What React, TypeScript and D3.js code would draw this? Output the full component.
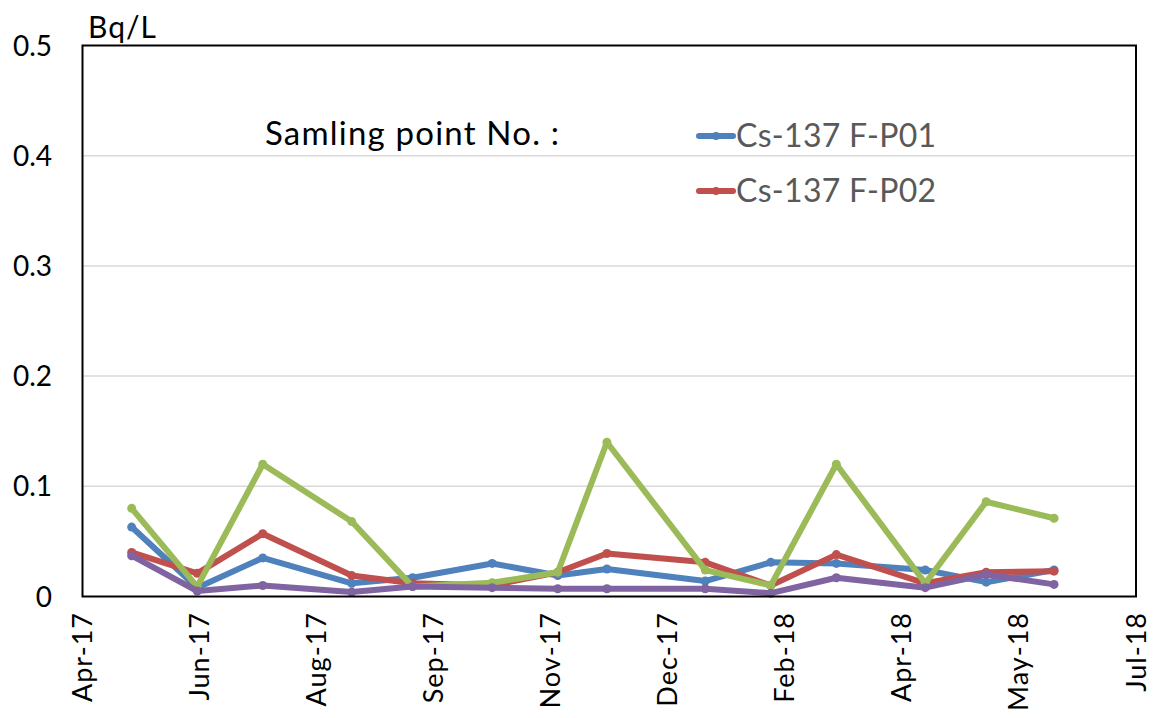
import React from "react";
import * as d3 from "d3";

// sampling dates (x) and Cs-137 concentrations, Bq/L
const sampleDates = [
  "2017-05-15", "2017-06-12", "2017-07-10", "2017-08-17", "2017-09-12",
  "2017-10-16", "2017-11-13", "2017-12-04", "2018-01-15", "2018-02-12",
  "2018-03-12", "2018-04-19", "2018-05-15", "2018-06-13",
];
const fp01 = [0.063, 0.008, 0.035, 0.012, 0.017, 0.03, 0.019, 0.025, 0.014, 0.031, 0.03, 0.024, 0.013, 0.024];
const fp02 = [0.04, 0.021, 0.057, 0.019, 0.012, 0.01, 0.022, 0.039, 0.031, 0.01, 0.038, 0.012, 0.022, 0.023];
const fp03 = [0.08, 0.009, 0.12, 0.068, 0.009, 0.0125, 0.022, 0.14, 0.024, 0.01, 0.12, 0.012, 0.086, 0.071];
const fp04 = [0.037, 0.005, 0.01, 0.004, 0.009, 0.008, 0.007, 0.007, 0.007, 0.003, 0.017, 0.008, 0.02, 0.011];

const seriesNames = ["Cs-137 F-P01", "Cs-137 F-P02", "Cs-137 F-P03", "Cs-137 F-P04"];
const seriesColors = ["#4F81BD", "#C0504D", "#9BBB59", "#8064A2"];

// axis ticks: Excel date axis, major unit 50 days
const tickDates = [
  "2017-04-24", "2017-06-13", "2017-08-02", "2017-09-21", "2017-11-10",
  "2017-12-30", "2018-02-18", "2018-04-09", "2018-05-29", "2018-07-18",
];
const yTicks = [0, 0.1, 0.2, 0.3, 0.4, 0.5];

const FONT = "Lato, 'Open Sans', sans-serif";

const App: React.FC = () => {
  const width = 1154;
  const height = 718;
  const margin = { top: 45.5, right: 18, bottom: 121.5, left: 82.5 };

  const parse = d3.utcParse("%Y-%m-%d");
  const dates = sampleDates.map((d) => parse(d)!);
  const ticks = tickDates.map((d) => parse(d)!);

  const x = d3
    .scaleUtc()
    .domain([ticks[0], ticks[ticks.length - 1]])
    .range([margin.left, width - margin.right]);

  const y = d3
    .scaleLinear()
    .domain([0, 0.5])
    .range([height - margin.bottom, margin.top]);

  const fmt = d3.utcFormat("%b-%y");
  const series = [fp01, fp02, fp03, fp04];

  const line = d3
    .line<number>()
    .x((_, i) => x(dates[i]))
    .y((v) => y(v));

  return (
    <svg
      width={width}
      height={height}
      style={{ position: "absolute", left: 0, top: 0, background: "#fff" }}
      fontFamily={FONT}
    >
      {/* gridlines */}
      {yTicks.slice(1, -1).map((t) => (
        <line
          key={t}
          x1={margin.left}
          x2={width - margin.right}
          y1={y(t)}
          y2={y(t)}
          stroke="#D9D9D9"
          strokeWidth={1.5}
        />
      ))}

      {/* y tick labels */}
      {yTicks.map((t) => (
        <text
          key={t}
          x={52}
          y={y(t)}
          dy="0.36em"
          textAnchor="end"
          fontSize={28}
          fill="#000"
        >
          {t === 0 ? "0" : t.toFixed(1)}
        </text>
      ))}

      {/* x tick labels, rotated */}
      {ticks.map((t, i) => (
        <text
          key={i}
          transform={`translate(${x(t) + 9.5},612) rotate(-90)`}
          textAnchor="end"
          fontSize={27}
          letterSpacing={1}
          fill="#000"
        >
          {fmt(t)}
        </text>
      ))}

      <text x={88} y={38} fontSize={30} letterSpacing={1} fill="#000">
        Bq/L
      </text>

      {/* series lines */}
      {series.map((s, k) => (
        <g key={k}>
          <path
            d={line(s)!}
            fill="none"
            stroke={seriesColors[k]}
            strokeWidth={6}
            strokeLinejoin="round"
          />
          {s.map((v, i) => (
            <circle key={i} cx={x(dates[i])} cy={y(v)} r={4.5} fill={seriesColors[k]} />
          ))}
        </g>
      ))}

      {/* plot frame */}
      <rect
        x={margin.left}
        y={margin.top}
        width={width - margin.left - margin.right}
        height={height - margin.top - margin.bottom}
        fill="none"
        stroke="#000"
        strokeWidth={2}
      />

      {/* legend */}
      <text x={265} y={145} fontSize={33} letterSpacing={1.2} fill="#000">
        Samling point No. :
      </text>
      {seriesNames.slice(0, 2).map((name, k) => (
        <g key={name} transform={`translate(0,${k * 55})`}>
          <line x1={699} x2={733} y1={136} y2={136} stroke={seriesColors[k]} strokeWidth={6} strokeLinecap="round" />
          <circle cx={716} cy={136} r={4} fill={seriesColors[k]} />
          <text x={736} y={147} fontSize={32} letterSpacing={0.3} fill="#595959">
            {name}
          </text>
        </g>
      ))}
    </svg>
  );
};

export default App;
